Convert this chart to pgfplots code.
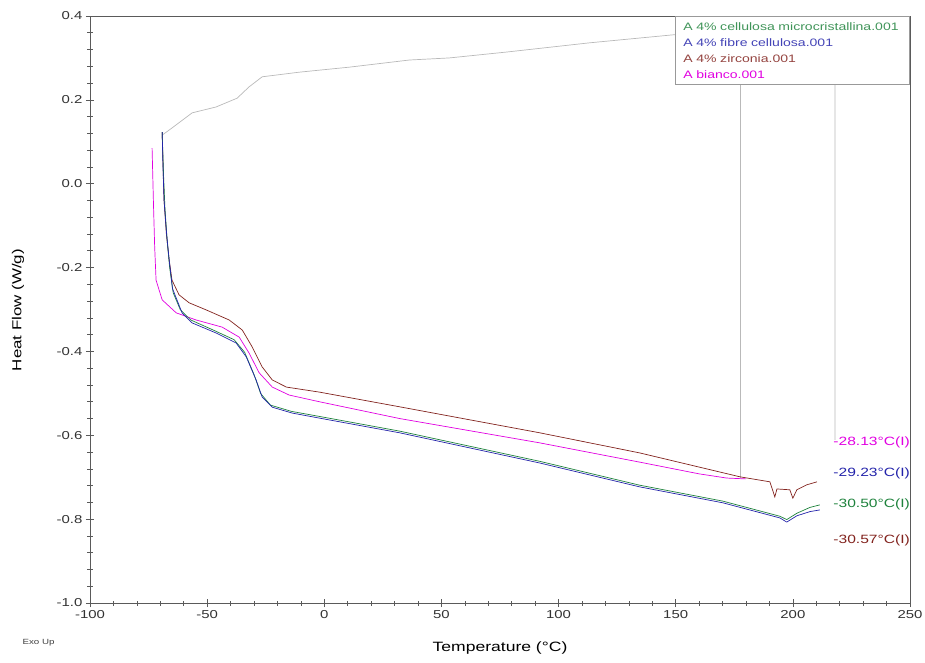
\documentclass[border=0pt]{standalone}
\usepackage{pgfplots}
\pgfplotsset{compat=1.18}
\usepackage{fontspec}
\setmainfont{Liberation Sans}[FakeStretch=1.3]
\definecolor{cgreen}{RGB}{30,130,60}
\definecolor{cblue}{RGB}{35,35,170}
\definecolor{cbrown}{RGB}{130,35,30}
\definecolor{cmag}{RGB}{225,0,225}
\definecolor{cgray}{RGB}{185,185,185}
\definecolor{axgray}{RGB}{90,90,90}

\begin{document}
\begin{tikzpicture}
\path[use as bounding box] (-90pt,-59pt) rectangle (835pt,603pt);
\begin{axis}[
  at={(0,0)}, anchor=south west,
  scale only axis, width=820pt, height=587pt,
  xmin=-100, xmax=250, ymin=-1, ymax=0.4,
  axis line style={axgray, line width=0.8pt},
  xtick={-100,-50,0,50,100,150,200,250},
  xticklabels={-100,-50,0,50,100,150,200,250},
  ytick={-1,-0.8,-0.6,-0.4,-0.2,0,0.2,0.4},
  yticklabels={-1.0,-0.8,-0.6,-0.4,-0.2,0.0,0.2,0.4},
  minor x tick num=4, minor y tick num=4,
  xtick pos=bottom, ytick pos=left,
  tick align=center,
  major tick length=8pt, minor tick length=5pt,
  tick style={axgray, line width=0.6pt},
  tick label style={font=\fontsize{11.5}{13}\selectfont, text=black!80},
  clip=true,
]
% gray cooling trace
\addplot[cgray, line width=0.7pt] coordinates {
(-69.2,0.116)(-66.2,0.128)(-56.4,0.169)(-46.2,0.183)(-37.2,0.204)(-32.1,0.231)
(-26.5,0.255)(-10.7,0.266)(10.7,0.278)(36.3,0.295)(53.4,0.300)(77.8,0.314)
(113.2,0.336)(148.7,0.355)(177.4,0.364)(218,0.376)(218,-0.611)};
\addplot[cgray, line width=0.7pt] coordinates {(177.4,0.364)(177.4,-0.702)};

% A bianco
\addplot[cmag, line width=0.7pt] coordinates {
(-73.5,0.085)(-72.9,-0.050)(-72.4,-0.150)(-71.8,-0.230)(-69.2,-0.277)(-63.2,-0.308)
(-54.7,-0.325)(-43.6,-0.342)(-36.3,-0.366)(-32.1,-0.404)(-27.8,-0.451)(-22.2,-0.485)
(-15.0,-0.504)(-2.1,-0.520)(32.1,-0.560)(91.9,-0.618)(134.6,-0.664)(160,-0.692)
(171.8,-0.702)(180,-0.704)};

% A 4% zirconia
\addplot[cbrown, line width=0.7pt] coordinates {
(-69.2,0.123)(-68.8,0.040)(-68.4,-0.039)(-67.4,-0.120)(-66.2,-0.182)(-65.0,-0.230)
(-62.0,-0.265)(-57.7,-0.284)(-50.4,-0.301)(-40.6,-0.325)(-35.0,-0.349)(-30.8,-0.389)
(-26.5,-0.437)(-22.2,-0.468)(-16.2,-0.485)(-2.1,-0.497)(32.1,-0.532)(91.9,-0.594)
(134.6,-0.642)(177.4,-0.699)(190.2,-0.711)(192.3,-0.747)(193.2,-0.728)(198.7,-0.730)
(200.0,-0.750)(201.7,-0.730)(206.0,-0.718)(210.3,-0.711)};

% A 4% cellulosa microcristallina
\addplot[cgreen, line width=0.7pt] coordinates {
(-69.2,0.123)(-68.6,0.020)(-68.0,-0.060)(-67.0,-0.140)(-66.0,-0.200)(-64.5,-0.260)
(-61.5,-0.300)(-57.0,-0.325)(-47.0,-0.350)(-38.5,-0.372)(-34.0,-0.402)(-30.0,-0.455)
(-27.2,-0.500)(-23.0,-0.528)(-14.0,-0.543)(-2.1,-0.555)(32.1,-0.590)(91.9,-0.662)
(134.6,-0.719)(170.1,-0.757)(194.4,-0.793)(197.4,-0.801)(201.7,-0.786)(207.3,-0.772)
(211.5,-0.766)};

% A 4% fibre cellulosa
\addplot[cblue, line width=0.7pt] coordinates {
(-69.2,0.123)(-68.8,0.030)(-68.4,-0.039)(-67.3,-0.120)(-66.2,-0.182)(-64.8,-0.250)
(-60.7,-0.308)(-56.4,-0.332)(-46.2,-0.356)(-37.6,-0.380)(-33.3,-0.413)(-29.1,-0.468)
(-26.5,-0.509)(-22.2,-0.533)(-13.7,-0.547)(-2.1,-0.559)(32.1,-0.594)(91.9,-0.666)
(134.6,-0.723)(170.1,-0.761)(194.4,-0.797)(197.4,-0.807)(201.7,-0.792)(207.3,-0.782)
(211.5,-0.778)};

% legend box
\node[draw=gray!80, line width=1.2pt, fill=white, anchor=north east,
      inner xsep=8pt, inner ysep=6pt, align=left,
      font=\fontsize{10.8}{16}\selectfont, text width=218pt]
  at (rel axis cs:1,1) {%
  \textcolor{cgreen!85!white}{A 4\% cellulosa microcristallina.001}\\
  \textcolor{cblue!85!white}{A 4\% fibre cellulosa.001}\\
  \textcolor{cbrown!85!white}{A 4\% zirconia.001}\\
  \textcolor{cmag}{A bianco.001}};

% peak temperature labels
\node[anchor=west, font=\fontsize{12}{13}\selectfont, text=cmag] at (axis cs:215.8,-0.618) {-28.13°C(I)};
\node[anchor=west, font=\fontsize{12}{13}\selectfont, text=cblue] at (axis cs:215.8,-0.690) {-29.23°C(I)};
\node[anchor=west, font=\fontsize{12}{13}\selectfont, text=cgreen] at (axis cs:215.8,-0.766) {-30.50°C(I)};
\node[anchor=west, font=\fontsize{12}{13}\selectfont, text=cbrown] at (axis cs:215.8,-0.850) {-30.57°C(I)};
\end{axis}
\node[rotate=90, font=\fontsize{13}{15}\selectfont] at (-72pt,293pt) {Heat Flow (W/g)};
\node[font=\fontsize{13.5}{15}\selectfont] at (410pt,-45pt) {Temperature (°C)};
\node[anchor=west, font=\fontsize{7.5}{9}\selectfont, text=black!75] at (-71pt,-40pt) {Exo Up};
\end{tikzpicture}
\end{document}
